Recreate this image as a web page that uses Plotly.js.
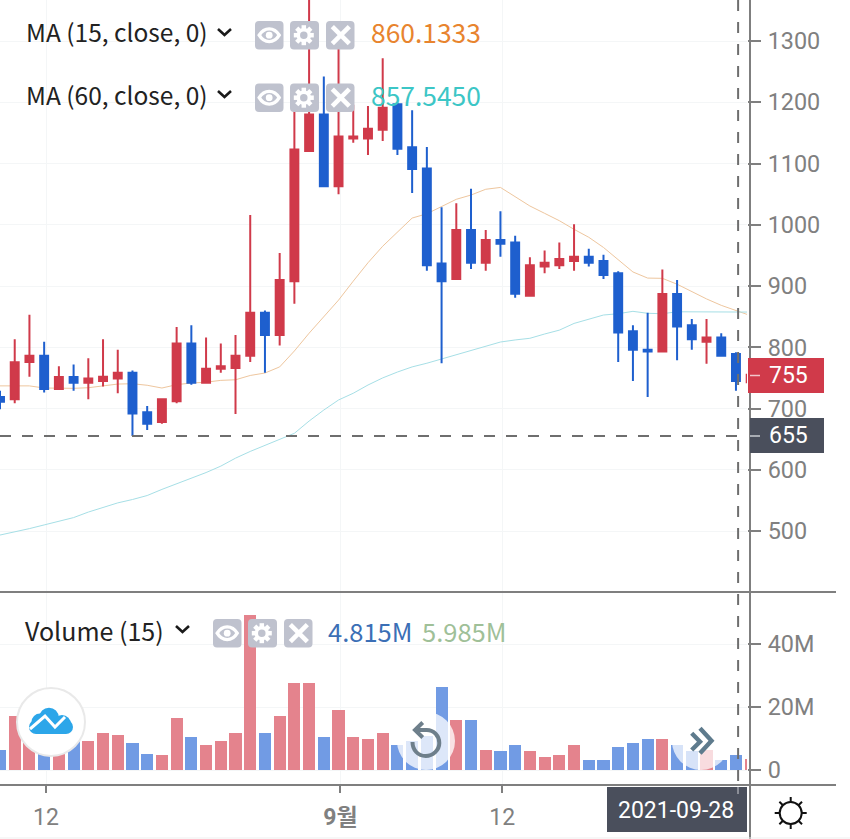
<!DOCTYPE html>
<html><head><meta charset="utf-8">
<script src="https://cdn.plot.ly/plotly-3.0.1.min.js"></script>
<style>html,body{margin:0;padding:0;background:#fff}#c{width:850px;height:839px}</style>
</head><body><div id="c"></div>
<script>
const dates = ['2021-08-09','2021-08-10','2021-08-11','2021-08-12','2021-08-13','2021-08-14','2021-08-15','2021-08-16','2021-08-17','2021-08-18','2021-08-19','2021-08-20','2021-08-21','2021-08-22','2021-08-23','2021-08-24','2021-08-25','2021-08-26','2021-08-27','2021-08-28','2021-08-29','2021-08-30','2021-08-31','2021-09-01','2021-09-02','2021-09-03','2021-09-04','2021-09-05','2021-09-06','2021-09-07','2021-09-08','2021-09-09','2021-09-10','2021-09-11','2021-09-12','2021-09-13','2021-09-14','2021-09-15','2021-09-16','2021-09-17','2021-09-18','2021-09-19','2021-09-20','2021-09-21','2021-09-22','2021-09-23','2021-09-24','2021-09-25','2021-09-26','2021-09-27','2021-09-28','2021-09-29'];
const opens = [719,715,776,786,732,751.5,742,745,749,758.5,694,678,712,806,742,765,766,786,856.5,820,908,1120.5,1180,1063,1141,1141,1155,1197,1126.5,1092,937,911.5,991.5,938,975,971,884,932,934,941,948,941,921,826,796,793,887,836,809,816,789,743];
const closes = [711,775.5,786,732,751.5,742,749,752,758.5,692,675,715,806,742,765,769,786,856.5,820,910,1123,1180,1063,1144,1144,1157,1191,1124,1091,934,908,991.5,938,975,969,887.5,934,938,944,948,938,918,824,796,793,887,834,813,816,786,745,755];
const highs = [729,813,853,809,769,772,782,813,796,762,704,715,833,836,816,806,820,1016,860,954,1204,1370,1242,1318,1196,1194,1272,1199,1187,1127,1028.5,1035,1059,991.5,1022,982,947,958,971,1001,961,951,924,836,856.5,927,910,846,846,823,792,755];
const lows = [699,708.5,752,726,732,729,715,736,725,655,665,675,708.5,739,742,758.5,691,776,758.5,803,871,1120.5,1063,1050,1134,1114,1137,1114,1052,925,774,911.5,928,925,948,881,884,921,928,925,932,911.5,776,745,719,793,779,796,773,786,729,743];
const ma15 = [737,737,737,733.5,733,733,734,737,740,740.5,738,733.5,739,741.7,743,746,747,754,758,768,794,823,850,877,908,938,965,988,1011,1018,1029.5,1041.6,1048.6,1058,1061,1046,1030.7,1018.7,1006.7,992.6,979.6,963,942.5,923,913,912.6,903,891,879,868.5,860.13,851.6];
const ma60 = [493.5,498.4,504,510,516,522,531,539,546,551.5,558,568,577,587,595.5,606,619,630,640,650,659.6,679.6,697.6,714,725,738.4,750,759.6,768,774,781,788,795.6,802,808.6,812,814.7,821.7,828,839,846,852.7,854.8,858.7,855.5,854.8,858,858,858,858,857.545,857.5];
const volumeM = [6.5,17.1,10.9,8.9,7.9,9.5,9.2,11.9,11.2,8.6,5.2,4.7,16.4,10.6,7.9,9.2,11.9,49.2,11.9,17.1,27.5,27.5,10.6,19.1,10.6,9.9,11.9,7.9,9.2,10.9,26.2,15.8,15.8,6.5,5.9,7.9,5.9,4,4.7,7.9,3.3,3.3,7.2,8.6,9.9,9.9,7.9,5.9,6.5,3.3,4.815,3.5];
const priceTicks = [500,600,700,800,900,1000,1100,1200,1300];
const volumeTicks = [0,20,40];
const volumeTickText = ['0','20M','40M'];
const dateTicks = ['2021-08-12 03:00','2021-09-01 03:00','2021-09-12 03:00'];
const dateTickText = ['12','<b>9월</b>','12'];
const crossDate = '2021-09-28 03:30', crossLabel = '2021-09-28';
const crossPrice = 655, lastPrice = 755;

const W=850,H=839;
const RED='#D03A4A',BLUE='#1E5FCE',VRED='#E4838D',VBLUE='#719BE4',GREY='#7F7F7F',LABEL='#808080';
const FONT="'Noto Sans CJK KR','Noto Sans',sans-serif";
const fx=x=>x/W, fy=y=>1-y/H, pt=(x,y)=>fx(x)+','+fy(y);
const shapes=[],notes=[];
const paper={xref:'paper',yref:'paper'};
function line(x0,y0,x1,y1,color,width,extra){shapes.push(Object.assign({type:'line',...paper,x0:fx(x0),x1:fx(x1),y0:fy(y0),y1:fy(y1),line:{color,width}},extra||{}));}
function rect(x0,y0,x1,y1,fill){shapes.push({type:'rect',...paper,x0:fx(x0),x1:fx(x1),y0:fy(y0),y1:fy(y1),fillcolor:fill,line:{width:0}});}
function circle(cx,cy,r,fill,color,width,opacity){shapes.push({type:'circle',...paper,x0:fx(cx-r),x1:fx(cx+r),y0:fy(cy-r),y1:fy(cy+r),fillcolor:fill,opacity:opacity==null?1:opacity,line:{color:color||'rgba(0,0,0,0)',width:width||0}});}
function path(d,fill,color,width){shapes.push({type:'path',...paper,path:d,fillcolor:fill||'rgba(0,0,0,0)',line:{color:color||'rgba(0,0,0,0)',width:width||0}});}
function poly(pts,color,width){path('M'+pts.map(p=>pt(p[0],p[1])).join(' L'),null,color,width);}
function rrect(x0,y0,x1,y1,r,fill){const q=(a,b,c,d)=>`Q${pt(a,b)} ${pt(c,d)}`;
  path(`M${pt(x0+r,y0)} L${pt(x1-r,y0)} ${q(x1,y0,x1,y0+r)} L${pt(x1,y1-r)} ${q(x1,y1,x1-r,y1)} L${pt(x0+r,y1)} ${q(x0,y1,x0,y1-r)} L${pt(x0,y0+r)} ${q(x0,y0,x0+r,y0)} Z`,fill);}
function text(x,y,t,size,color,family,anchor){notes.push({xref:'paper',yref:'paper',x:fx(x),y:fy(y),text:t,showarrow:false,xanchor:anchor||'left',yanchor:'middle',font:{family:family||FONT,size,color},borderpad:0,borderwidth:0});}
const ICON='#BFC2CE';
function icons(x,y){
  const b=[[x,x+28.5],[x+35,x+64],[x+71,x+99.5]];
  b.forEach(s=>rrect(s[0],y,s[1],y+28.5,4,ICON));
  const cy=y+14.2;
  const ex=x+14.2;
  path(`M${pt(ex-10,cy)} C${pt(ex-5,cy-8.5)} ${pt(ex+5,cy-8.5)} ${pt(ex+10,cy)} C${pt(ex+5,cy+8.5)} ${pt(ex-5,cy+8.5)} ${pt(ex-10,cy)} Z`,null,'#fff',3.4);
  circle(ex,cy,3.4,'#fff');
  const gx=x+48.8;
  for(let k=0;k<4;k++){const a=k*Math.PI/4,c=Math.cos(a)*10,s=Math.sin(a)*10;line(gx-c,cy-s,gx+c,cy+s,'#fff',4.5);}
  circle(gx,cy,5.5,ICON,'#fff',3.5);
  const cx=x+85.8;
  line(cx-8.5,cy-8.5,cx+8.5,cy+8.5,'#fff',4.6);
  line(cx-8.5,cy+8.5,cx+8.5,cy-8.5,'#fff',4.6);
}
function chev(x,y){poly([[x,y],[x+6.5,y+6],[x+13,y]],'#1a1a1a',2.6);}

// pane frame
line(0,592,836,592,GREY,2);
line(0,785,836,785,GREY,2);
line(750,0,750,839,GREY,2);
line(0,838,850,838,'#EFEFEF',1);

// crosshair
shapes.push({type:'line',xref:'x',yref:'paper',x0:crossDate,x1:crossDate,y0:fy(0),y1:fy(794),line:{color:'#6E6E6E',width:2,dash:'11px,11px'}});
shapes.push({type:'line',xref:'paper',yref:'y',x0:0,x1:fx(738),y0:crossPrice,y1:crossPrice,line:{color:'#6E6E6E',width:2,dash:'11px,11px'}});

// price boxes
rect(748,358,824,393,RED);
line(750,375.5,760,375.5,'#F2C6CB',1.5);
text(768.5,375.5,String(lastPrice),23,'#fff','Roboto');
rect(750,418,824,453,'#4A4F5C');
line(750,436,760,436,'#C9CBD1',1.5);
text(768.5,435.5,String(crossPrice),23,'#fff','Roboto');
rect(607,787,747,832,'#4A4F5C');
text(676,810,crossLabel,23,'#fff','Roboto','center');
line(738,787,738,794,'#8b8e97',2);

// legend rows
text(25.5,31.5,'MA (15, close, 0)',24.5,'#222');
chev(218,29);icons(255,21);
text(371,32,'860.1333',26.4,'#E8842E');
text(25.5,94,'MA (60, close, 0)',24.5,'#222');
chev(218,91);icons(255,83.5);
text(371,94.5,'857.5450',26.4,'#3CC6C6');
text(25,630,'Volume (15)',25,'#222');
chev(176,626);icons(213,619);
text(328,630.5,'4.815M',25.5,'#3B6FB6');
text(422,630.5,'5.985M',25.5,'#9FC098');

// cloud button
circle(51,722,34,'#fff','#E9E9E9',2);
const CL='#2CA6E9';
circle(36,727,7,CL);circle(40,722,8.5,CL);circle(49,717.5,9.8,CL);circle(62,724,9,CL);circle(66,727,7,CL);
rect(36,724,66,734,CL);
poly([[30,729],[45,716],[55,727],[65,717]],'#fff',3);

// reload button
circle(426,741,29,'#fff',null,0,0.76);
const RC='#6E7F8B';
path(`M${pt(412.5,742)} C${pt(412.5,750)} ${pt(418,756)} ${pt(425.7,756)} C${pt(433,756)} ${pt(439.3,750)} ${pt(439.3,743)} C${pt(439.3,736)} ${pt(434,730)} ${pt(426.7,730)} L${pt(415.5,730)}`,null,RC,4);
poly([[422.7,722.5],[415,730],[422.7,737.5]],RC,4);

// forward button
circle(701,741,29,'#fff',null,0,0.72);
poly([[691.7,733.3],[700,741.7],[691.7,750]],'#5E7B8D',4.4);
poly([[700,728.3],[711.5,740.7],[700,753.3]],'#5E7B8D',4.4);

// sun icon
circle(790.7,813,11,'#fff','#111',2);
for(let k=0;k<8;k++){const a=k*Math.PI/4,c=Math.cos(a),s=Math.sin(a);line(790.7+c*11,813+s*11,790.7+c*16,813+s*16,'#111',2);}

const isUp=i=>closes[i]>=opens[i];
const traces=[
 {type:'scatter',mode:'lines',x:dates,y:ma15,line:{color:'#EEC69E',width:1},xaxis:'x',yaxis:'y',hoverinfo:'skip'},
 {type:'scatter',mode:'lines',x:dates,y:ma60,line:{color:'#A6DFE6',width:1},xaxis:'x',yaxis:'y',hoverinfo:'skip'},
 {type:'candlestick',x:dates,open:opens,high:highs,low:lows,close:closes,xaxis:'x',yaxis:'y3',whiskerwidth:0,
  increasing:{line:{color:RED,width:2},fillcolor:RED},decreasing:{line:{color:BLUE,width:2},fillcolor:BLUE},hoverinfo:'skip'},
 {type:'bar',x:dates,y:volumeM,xaxis:'x2',yaxis:'y2',width:71000000,marker:{color:volumeM.map((v,i)=>isUp(i)?VRED:VBLUE),line:{width:0}},hoverinfo:'skip'}
];
const xRange=['2021-08-09 00:00','2021-09-28 18:00'];
const gridc='#F4F6F7';
const layout={width:W,height:H,margin:{l:0,r:0,t:0,b:0},paper_bgcolor:'#fff',plot_bgcolor:'#fff',showlegend:false,hovermode:false,boxgap:0.23,bargap:0,
 xaxis:{type:'date',domain:[0,747/W],range:xRange,anchor:'y',rangeslider:{visible:false},tickmode:'array',tickvals:dateTicks,ticktext:dateTicks.map(()=>''),ticks:'',showgrid:true,gridcolor:gridc,gridwidth:1,zeroline:false,showline:false,fixedrange:true},
 xaxis2:{type:'date',domain:[0,747/W],range:xRange,anchor:'y2',tickmode:'array',tickvals:dateTicks,ticktext:dateTickText,ticks:'outside',ticklen:7,tickwidth:2,tickcolor:GREY,tickfont:{family:"Roboto,'Noto Sans CJK KR'",size:23,color:LABEL},ticklabelstandoff:4,showgrid:true,gridcolor:gridc,zeroline:false,showline:false,fixedrange:true,tickangle:0},
 yaxis:{domain:[fy(592),1],range:[400.5,1367],anchor:'x',side:'right',tickmode:'array',tickvals:priceTicks,ticks:'outside',ticklen:13,tickwidth:2,tickcolor:GREY,tickfont:{family:'Roboto',size:23.4,color:LABEL},ticklabelstandoff:2,showgrid:true,gridcolor:gridc,zeroline:false,showline:false,fixedrange:true},
 yaxis3:{overlaying:'y',range:[400.5,1367],anchor:'x',side:'right',visible:false,fixedrange:true},
 yaxis2:{domain:[fy(785),fy(593)],range:[-4.76,56.19],anchor:'x2',side:'right',tickmode:'array',tickvals:volumeTicks,ticktext:volumeTickText,ticks:'outside',ticklen:13,tickwidth:2,tickcolor:GREY,tickfont:{family:'Roboto',size:23.4,color:LABEL},ticklabelstandoff:2,showgrid:true,gridcolor:gridc,zeroline:false,showline:false,fixedrange:true},
 shapes,annotations:notes};
Plotly.newPlot('c',traces,layout,{displayModeBar:false,staticPlot:true});
</script></body></html>
